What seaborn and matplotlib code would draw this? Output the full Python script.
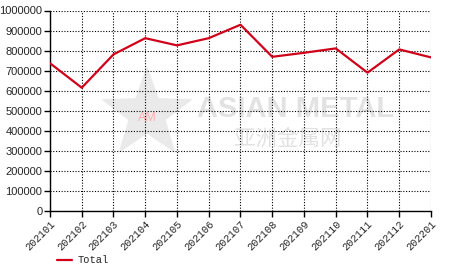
import matplotlib
matplotlib.use("Agg")
import matplotlib.pyplot as plt
import seaborn as sns
import pandas as pd
from matplotlib.patches import Polygon
import numpy as np

months = ["202101", "202102", "202103", "202104", "202105", "202106", "202107",
          "202108", "202109", "202110", "202111", "202112", "202201"]
total = [737000, 615000, 781000, 862000, 826000, 862000, 929000,
         769000, 789000, 811000, 690000, 806000, 766000]
yticks = [0, 100000, 200000, 300000, 400000, 500000, 600000, 700000, 800000, 900000, 1000000]

sns.set_style("white")
plt.rcParams['font.family'] = ['Liberation Sans', 'DejaVu Sans', 'Noto Sans CJK SC']

df = pd.DataFrame({"month": months, "Total": total, "x": range(len(months))})

fig = plt.figure(figsize=(4.66, 2.72), dpi=100)
ax_w, ax_h = 431 - 50, 211 - 10.5
ax = fig.add_axes([50/466, 1 - 211/272, ax_w/466, ax_h/272])

# watermark star (pixel geometry converted to axes fractions)
cx_px, cy_px, R_px, r_px = 147, 114, 47, 19
pts = []
for i in range(10):
    ang = np.pi/2 + i*np.pi/5
    rad = R_px if i % 2 == 0 else r_px
    px = cx_px + rad*np.cos(ang)
    py = cy_px - rad*np.sin(ang)
    pts.append(((px - 50)/ax_w, (211 - py)/ax_h))
ax.add_patch(Polygon(pts, closed=True, transform=ax.transAxes, facecolor="#dcdcdc",
                     edgecolor="#e8e8e8", alpha=0.6, zorder=0))
ax.text((147 - 50)/ax_w, (211 - 118)/ax_h, "AM", transform=ax.transAxes, color="#ffb0b0",
        fontsize=9, ha="center", va="center", zorder=0)
ax.text((197 - 50)/ax_w, (211 - 109)/ax_h, "ASIAN METAL", transform=ax.transAxes,
        color="#e2e2e2", fontsize=21, fontweight="bold", ha="left", va="center", zorder=0)
ax.text((234 - 50)/ax_w, (211 - 139)/ax_h, "亚洲金属网", transform=ax.transAxes,
        color="#e2e2e2", fontsize=15.5, ha="left", va="center", zorder=0,
        family=['Noto Sans CJK SC', 'DejaVu Sans'])

sns.lineplot(data=df, x="x", y="Total", ax=ax, color="#d0021b", linewidth=1.6,
             label="Total", zorder=3)

ax.set_xlim(0, len(months) - 1)
ax.set_ylim(0, 1000000)
ax.set_xticks(range(len(months)))
ax.set_xticklabels(months, rotation=45, ha="right", rotation_mode="anchor",
                   family="Liberation Mono", fontsize=7.5)
ax.set_yticks(yticks)
ax.set_yticklabels([str(v) for v in yticks], fontsize=8)
ax.set_xlabel("")
ax.set_ylabel("")

ax.grid(True, color="black", linestyle=(0, (1, 1.5)), linewidth=0.8, zorder=1)
ax.set_axisbelow(True)
for s in ["top", "right"]:
    ax.spines[s].set_visible(False)
for s in ["left", "bottom"]:
    ax.spines[s].set_color("black")
    ax.spines[s].set_linewidth(1.0)
ax.tick_params(axis="both", direction="out", length=4, width=1, color="black",
               pad=1.5, bottom=True, left=True)

leg = ax.legend(loc="upper left", bbox_to_anchor=(0.008, -0.2), frameon=False,
                prop={"family": "Liberation Mono", "size": 7.5},
                handlelength=1.45, handletextpad=0.5, borderaxespad=0)

fig.savefig("out.png", dpi=100)
